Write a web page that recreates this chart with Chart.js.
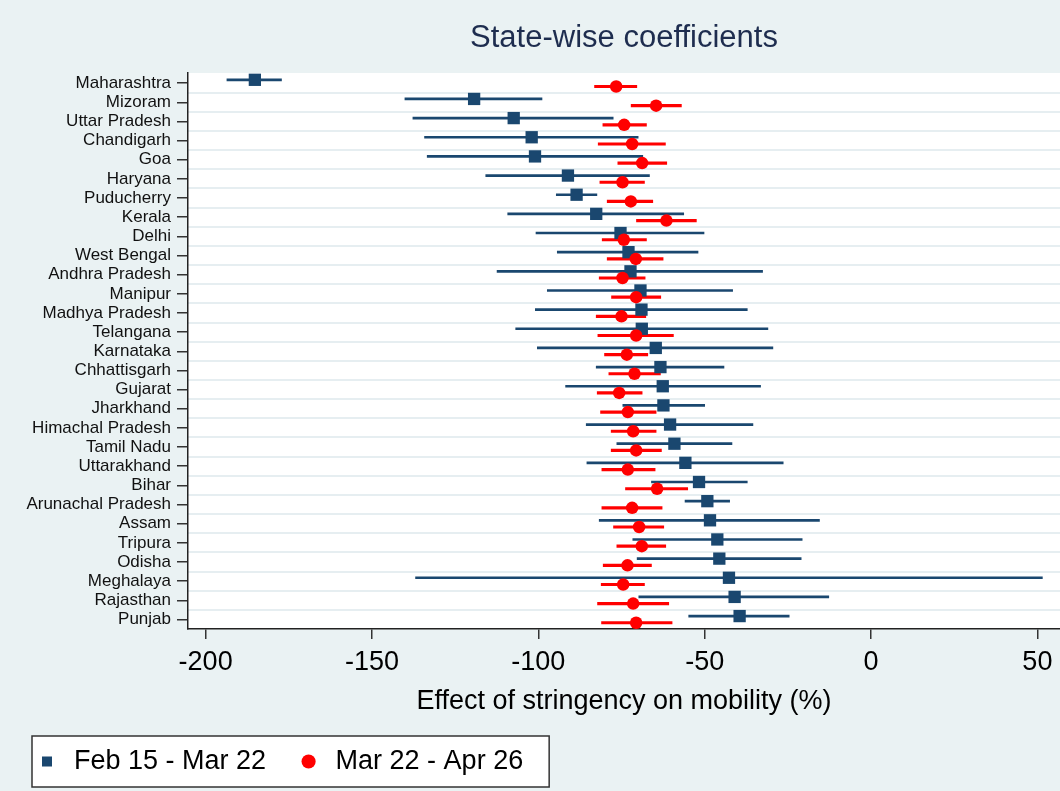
<!DOCTYPE html>
<html>
<head>
<meta charset="utf-8">
<title>State-wise coefficients</title>
<script src="https://cdn.jsdelivr.net/npm/chart.js@4.4.1/dist/chart.umd.min.js"></script>
<style>
    html, body { margin: 0; padding: 0; background: #eaf2f3; }
    canvas { display: block; }
</style>
</head>
<body>
<canvas id="coef-chart" width="1060" height="791"></canvas>
<script>
// Data
const states = ['Maharashtra', 'Mizoram', 'Uttar Pradesh', 'Chandigarh', 'Goa', 'Haryana', 'Puducherry',
    'Kerala', 'Delhi', 'West Bengal', 'Andhra Pradesh', 'Manipur', 'Madhya Pradesh', 'Telangana',
    'Karnataka', 'Chhattisgarh', 'Gujarat', 'Jharkhand', 'Himachal Pradesh', 'Tamil Nadu', 'Uttarakhand',
    'Bihar', 'Arunachal Pradesh', 'Assam', 'Tripura', 'Odisha', 'Meghalaya', 'Rajasthan', 'Punjab'];

const seriesNames = ['Feb 15 - Mar 22', 'Mar 22 - Apr 26'];

// Feb 15 - Mar 22
const febCoef = [-185.2, -119.3, -107.4, -102.0, -101.0, -91.1, -88.5, -82.6, -75.3, -72.9, -72.3, -69.3, -69.0, -68.9,
    -64.7, -63.3, -62.6, -62.4, -60.4, -59.1, -55.8, -51.7, -49.2, -48.4, -46.2, -45.6, -42.7, -41.0, -39.5];
const febLow = [-193.6, -140.1, -137.7, -134.2, -133.4, -115.8, -94.6, -109.2, -100.7, -94.3, -112.4, -97.3, -100.9, -106.8,
    -100.3, -82.6, -91.8, -74.6, -85.6, -76.4, -85.4, -66.0, -55.9, -81.7, -71.6, -70.3, -136.9, -69.8, -54.8];
const febHigh = [-177.2, -98.9, -77.5, -70.0, -68.6, -66.6, -82.4, -56.3, -50.2, -52.0, -32.6, -41.6, -37.2, -31.0,
    -29.5, -44.2, -33.2, -50.0, -35.5, -41.8, -26.4, -37.2, -42.5, -15.5, -20.7, -21.0, 51.5, -12.7, -24.6];

// Mar 22 - Apr 26
const marCoef = [-76.6, -64.6, -74.2, -71.8, -68.8, -74.7, -72.2, -61.5, -74.3, -70.7, -74.7, -70.6, -75.0, -70.6,
    -73.4, -71.1, -75.7, -73.1, -71.5, -70.6, -73.1, -64.3, -71.8, -69.7, -68.9, -73.2, -74.5, -71.5, -70.6];
const marLow = [-83.1, -72.1, -80.6, -82.0, -76.1, -81.5, -79.3, -70.5, -80.8, -79.3, -81.7, -78.0, -82.6, -82.1,
    -80.1, -78.8, -82.3, -81.3, -78.1, -78.1, -80.9, -73.8, -80.9, -77.4, -76.4, -80.5, -81.1, -82.2, -81.0];
const marHigh = [-70.4, -57.0, -67.5, -61.8, -61.4, -68.1, -65.6, -52.5, -67.5, -62.5, -67.9, -63.2, -67.7, -59.4,
    -67.1, -63.3, -68.8, -64.6, -64.6, -63.0, -64.9, -55.1, -62.8, -62.3, -61.7, -66.0, -68.1, -60.8, -59.8];

const xTicks = [-200, -150, -100, -50, 0, 50];

// Axis ranges and styles
const xMin = -205.3, xMax = 56.8;
const yMin = -0.53, yMax = 28.5;
const rowShift = 0.175;
const navy = '#1a476f';
const red = '#ff0000';
const bgColor = '#eaf2f3';

Chart.defaults.font.family = "'Liberation Sans', Arial, Helvetica, sans-serif";

// grey page + white plot region
const backgroundPlugin = {
    id: 'background',
    beforeDraw(chart) {
        const { ctx, chartArea } = chart;
        ctx.save();
        ctx.fillStyle = bgColor;
        ctx.fillRect(0, 0, chart.width, chart.height);
        ctx.fillStyle = '#ffffff';
        ctx.fillRect(chartArea.left, chartArea.top, chartArea.right - chartArea.left, chartArea.bottom - chartArea.top);
        ctx.restore();
    }
};

// frame around the legend
const legendBoxPlugin = {
    id: 'legendBox',
    beforeDraw(chart) {
        const boxes = chart.legend && chart.legend.legendHitBoxes;
        if (!boxes || !boxes.length) return;
        const first = boxes[0];
        const last = boxes[boxes.length - 1];
        const cy = first.top + first.height / 2;
        const left = first.left - 1.5;
        const right = last.left + last.width + 26;
        const ctx = chart.ctx;
        ctx.save();
        ctx.fillStyle = '#ffffff';
        ctx.fillRect(left, cy - 25.5, right - left, 51);
        ctx.strokeStyle = '#333333';
        ctx.lineWidth = 1.5;
        ctx.strokeRect(left, cy - 25.5, right - left, 51);
        ctx.restore();
    }
};

const ctx = document.getElementById('coef-chart').getContext('2d');
new Chart(ctx, {
    type: 'scatter',
    data: {
        datasets: [{
            label: seriesNames[0],
            data: states.map((s, i) => ({ x: febCoef[i], y: i - rowShift })),
            pointStyle: 'rect',
            pointRadius: 8.7,
            backgroundColor: navy,
            borderColor: navy,
            borderWidth: 0,
            order: 1,
            xAxisID: 'x',
            yAxisID: 'y'
        }, {
            label: seriesNames[1],
            data: states.map((s, i) => ({ x: marCoef[i], y: i + rowShift })),
            pointStyle: 'circle',
            pointRadius: 6.25,
            backgroundColor: red,
            borderColor: red,
            borderWidth: 0,
            order: 0,
            xAxisID: 'x',
            yAxisID: 'y'
        }, {
            type: 'bar',
            label: seriesNames[0] + ' CI',
            indexAxis: 'y',
            data: states.map((s, i) => ({ x: [febLow[i], febHigh[i]], y: i - rowShift })),
            backgroundColor: navy,
            barThickness: 2,
            grouped: false,
            order: 3,
            xAxisID: 'x',
            yAxisID: 'y'
        }, {
            type: 'bar',
            label: seriesNames[1] + ' CI',
            indexAxis: 'y',
            data: states.map((s, i) => ({ x: [marLow[i], marHigh[i]], y: i + rowShift })),
            backgroundColor: red,
            barThickness: 2.5,
            grouped: false,
            order: 2,
            xAxisID: 'x',
            yAxisID: 'y'
        }]
    },
    options: {
        responsive: false,
        animation: false,
        events: [],
        layout: { autoPadding: false, padding: { left: 4.5, right: 0, top: 0, bottom: 6 } },
        scales: {
            x: {
                type: 'linear',
                position: 'bottom',
                min: xMin,
                max: xMax,
                offset: false,
                beginAtZero: false,
                afterBuildTicks: (s) => { s.ticks = xTicks.map(v => ({ value: v })); },
                afterFit: (s) => { s.height = 90; s.paddingLeft = 0; s.paddingRight = 0; },
                ticks: { font: { size: 27 }, color: '#000000', padding: 7 },
                grid: { offset: false, drawOnChartArea: false, drawTicks: true, tickLength: 10, color: '#333333', lineWidth: 1.5 },
                border: { display: true, color: '#222222', width: 1.5 },
                title: {
                    display: true,
                    text: 'Effect of stringency on mobility (%)',
                    font: { size: 27 },
                    color: '#000000',
                    padding: { top: 0, bottom: 1 }
                }
            },
            xTop: {
                type: 'linear',
                position: 'top',
                min: xMin,
                max: xMax,
                offset: false,
                afterFit: (s) => { s.height = 73; s.paddingLeft = 0; s.paddingRight = 0; },
                ticks: { display: false },
                grid: { display: false, drawTicks: false },
                border: { display: false },
                title: {
                    display: true,
                    text: 'State-wise coefficients',
                    font: { size: 31 },
                    color: '#1e2d4f',
                    padding: { top: 19.5, bottom: 0 }
                }
            },
            y: {
                type: 'linear',
                position: 'left',
                reverse: true,
                min: yMin,
                max: yMax,
                offset: false,
                beginAtZero: false,
                afterBuildTicks: (s) => { s.ticks = states.map((_, i) => ({ value: i })); },
                afterFit: (s) => { s.width = 183.5; s.paddingTop = 0; s.paddingBottom = 0; },
                ticks: {
                    font: { size: 17 },
                    color: '#111111',
                    padding: 6,
                    autoSkip: false,
                    callback: (v) => states[v]
                },
                grid: { offset: false, drawOnChartArea: false, drawTicks: true, tickLength: 11, color: '#333333', lineWidth: 1.5 },
                border: { display: true, color: '#222222', width: 1.5 }
            },
            yGrid: {
                type: 'linear',
                position: 'right',
                reverse: true,
                min: yMin,
                max: yMax,
                offset: false,
                beginAtZero: false,
                afterBuildTicks: (s) => { s.ticks = states.slice(1).map((_, i) => ({ value: i + 0.5 })); },
                afterFit: (s) => { s.width = 0; s.paddingTop = 0; s.paddingBottom = 0; },
                ticks: { display: false },
                grid: { offset: false, drawTicks: false, color: '#e6eef1', lineWidth: 2 },
                border: { display: false }
            }
        },
        plugins: {
            tooltip: { enabled: false },
            legend: {
                position: 'bottom',
                align: 'start',
                labels: {
                    usePointStyle: true,
                    boxWidth: 27,
                    boxHeight: 10,
                    padding: 29,
                    font: { size: 27 },
                    color: '#000000',
                    filter: (item) => item.datasetIndex < 2,
                    sort: (a, b) => a.datasetIndex - b.datasetIndex
                }
            }
        }
    },
    plugins: [backgroundPlugin, legendBoxPlugin]
});
</script>
</body>
</html>
